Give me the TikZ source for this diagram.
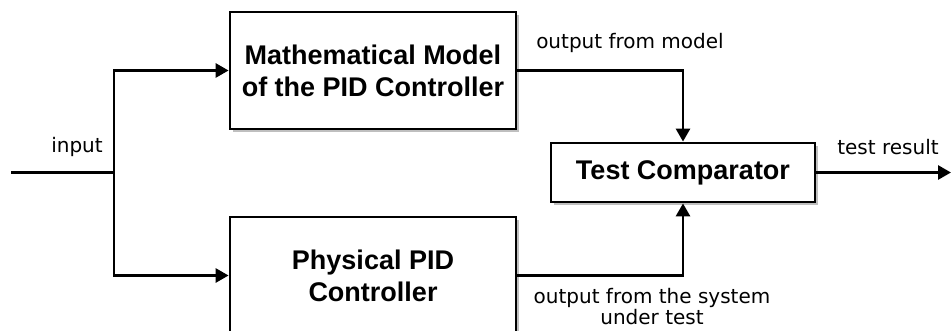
\documentclass[tikz,border=0pt]{standalone}
\usepackage{fontspec}
\setmainfont{Liberation Sans}
\newfontfamily\lblfont{DejaVu Sans}
\usetikzlibrary{arrows.meta,shadows}
\begin{document}
\begin{tikzpicture}[x=1pt,y=-1pt,
  blk/.style={draw, line width=2.8pt, fill=white, align=center, inner sep=0pt,
    font=\fontsize{27}{32}\selectfont\bfseries,
    drop shadow={opacity=1, fill=black!25, shadow xshift=3pt, shadow yshift=-3pt}},
  wire/.style={line width=2.8pt},
  arr/.style={line width=2.8pt, -{Triangle[length=13pt,width=14pt]}},
  lbl/.style={font=\lblfont\fontsize{20}{21}\selectfont, align=center, inner sep=0pt}]
\useasboundingbox (0,0) rectangle (952,331);
\node[blk, minimum width=286pt, minimum height=117pt] (mm) at (373,70.5) {Mathematical Model\\of the PID Controller};
\node[blk, minimum width=286pt, minimum height=117pt] (pp) at (373,275.5) {Physical PID\\Controller};
\node[blk, minimum width=264pt, minimum height=59pt] (tc) at (683,172.5) {Test Comparator};
\coordinate (in) at (11,172.5);
\coordinate (split) at (114,172.5);
\coordinate (out) at (951,172.5);
\draw[wire] (in) -- (split);
\draw[arr] (split) |- (mm.west);
\draw[arr] (split) |- (pp.west);
\draw[arr] (mm.east) -| (tc.north);
\draw[arr] (pp.east) -| (tc.south);
\draw[arr] (tc.east) -- (out);
\node[lbl] (linput) at (77,147) {input};
\node[lbl] (lmodel) at (630,43) {output from model};
\node[lbl] (lres) at (888,147) {test result};
\node[lbl] (lsys) at (652,307) {output from the system\\under test};
\end{tikzpicture}
\end{document}
